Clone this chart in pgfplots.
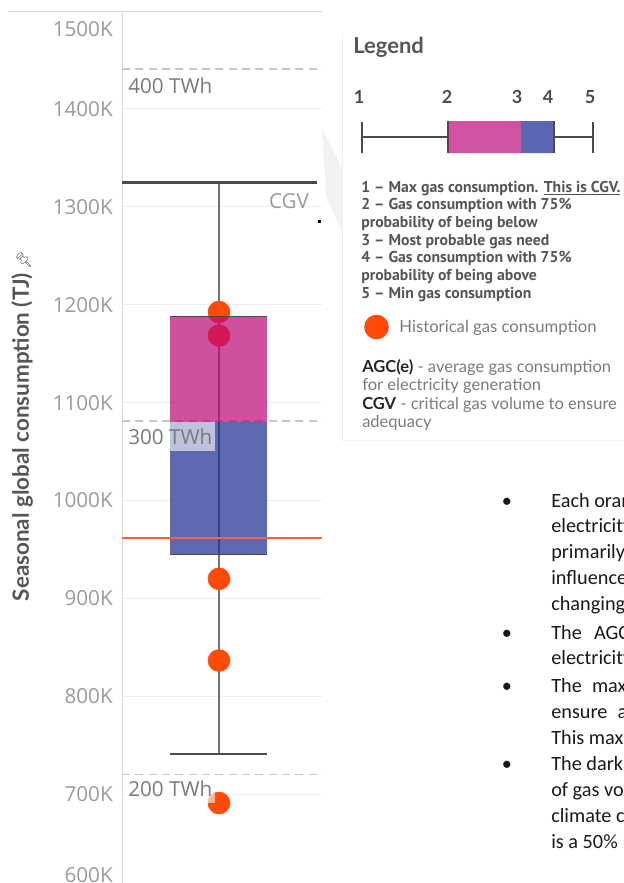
\documentclass[border=0pt]{standalone}
\usepackage{pgfplots}
\pgfplotsset{compat=1.18}
\usepackage{fontspec}
\setmainfont{Lato}
\newfontfamily\opensans{Open Sans}
\newfontfamily\ptsans{PT Sans}
\newfontfamily\calibri{Carlito}
\newfontfamily\emoji{Noto Emoji}

\definecolor{tickgray}{HTML}{9A9A9A}
\definecolor{lblgray}{HTML}{555555}
\definecolor{txtgray}{HTML}{7A7A7A}
\definecolor{axisgray}{HTML}{DADADA}
\definecolor{gridgray}{HTML}{EEEEEE}
\definecolor{dashgray}{HTML}{C6C6C6}
\definecolor{pinkbox}{HTML}{BC0677}
\definecolor{bluebox}{HTML}{192A91}
\definecolor{pinkleg}{HTML}{CF52A3}
\definecolor{blueleg}{HTML}{5B67B3}
\definecolor{hist}{HTML}{FF4A08}
\definecolor{agc}{HTML}{FF6236}
\definecolor{darkline}{HTML}{4A4A4A}

\newcommand\ticksfont{\opensans\fontsize{15.5pt}{17pt}\selectfont}

\begin{document}
\begin{tikzpicture}
\path[use as bounding box] (0,0) rectangle (468pt,-662.25pt);
\clip (0,0) rectangle (468pt,-662.25pt);

% ---- annotations, in pixel units (y down)
\begin{scope}[x=0.75pt,y=-0.75pt]
  \fill[black!5] (322,128) -- (342,168) -- (342,232) -- (326,196) -- cycle;
  \draw[black!6, line width=0.75pt] (342,33) -- (342,440) -- (624,440);
  \draw[axisgray, line width=0.75pt] (8,11) -- (322,11);
  \fill[black] (318,219.5) rectangle (321,222.5);
  \node[anchor=east, inner sep=0pt, text=tickgray, font=\ticksfont] at (113,875) {600K};
  \node[rotate=90, text=lblgray, font=\bfseries\fontsize{16.8pt}{18pt}\selectfont] at (22,426)
    {Seasonal global consumption (TJ)\,{\emoji\fontsize{11pt}{11pt}\selectfont\char"1F4CC}};

  % legend panel text
  \node[anchor=base west, inner sep=0pt, text=lblgray, font=\bfseries\fontsize{16.5pt}{18pt}\selectfont] at (353,53) {Legend};
  \begin{scope}[every node/.style={anchor=base, inner sep=0pt, text=darkline, font=\bfseries\fontsize{13.5pt}{15pt}\selectfont}]
    \node at (359,103.5) {1};
    \node at (447,103.5) {2};
    \node at (517,103.5) {3};
    \node at (548,103.5) {4};
    \node at (590,103.5) {5};
  \end{scope}
  \begin{scope}[every node/.style={anchor=base west, inner sep=0pt, text=lblgray, font=\ptsans\bfseries\fontsize{11.8pt}{13pt}\selectfont}]
    \node at (361,192) {1 – Max gas consumption. \underline{This is CGV.}};
    \node at (361,209.7) {2 – Gas consumption with 75\%};
    \node at (361,227.4) {probability of being below};
    \node at (361,245.1) {3 – Most probable gas need};
    \node at (361,262.8) {4 – Gas consumption with 75\%};
    \node at (361,280.5) {probability of being above};
    \node at (361,298.2) {5 – Min gas consumption};
  \end{scope}
  \begin{scope}[every node/.style={anchor=base west, inner sep=0pt, text=txtgray, font=\fontsize{12.4pt}{14pt}\selectfont}]
    \node at (362,372) {{\bfseries\color{black!85}AGC(e)} - average gas consumption};
    \node at (362,390.5) {for electricity generation};
    \node at (362,409) {{\bfseries\color{black!85}CGV} - critical gas volume to ensure};
    \node at (362,427.5) {adequacy};
  \end{scope}

  % bullet text (cut by the right edge)
  \begin{scope}[every node/.style={anchor=base west, inner sep=0pt, text=black!90, font=\calibri\fontsize{15.2pt}{17pt}\selectfont}]
    \foreach \yy in {507,639,692,770} \node[anchor=base] at (507,\yy) {\textbullet};
    \node at (551,507) {Each orange dot};
    \node at (551,532.8) {electricity};
    \node at (551,558.6) {primarily};
    \node at (551,584.4) {influenced};
    \node at (551,610.2) {changing};
    \node at (551,639) {The\hspace{0.6em}AGC(e)};
    \node at (551,664.8) {electricity};
    \node at (551,692) {The\hspace{0.5em}max};
    \node at (551,718) {ensure\hspace{0.5em}a};
    \node at (551,744) {This max};
    \node at (551,770) {The dark};
    \node at (551,796) {of gas volume};
    \node at (551,822) {climate conditions};
    \node at (551,848) {is a 50\%};
  \end{scope}
\end{scope}

% ---- main chart
\begin{axis}[
  at={(91.5pt,-662.25pt)}, anchor=south west,
  scale only axis, width=150pt, height=654pt,
  xmin=0, xmax=200, ymin=609.3, ymax=1500,
  axis x line=none, axis y line*=left,
  y axis line style={draw=axisgray, line width=0.75pt},
  ytick={700,800,900,1000,1100,1200,1300,1400},
  yticklabels={700K,800K,900K,1000K,1100K,1200K,1300K,1400K},
  extra y ticks={1500}, extra y tick labels={1500K},
  extra y tick style={grid=none, yticklabel style={yshift=-13.5pt}},
  major tick length=0pt,
  yticklabel style={font=\ticksfont, text=tickgray, inner sep=0pt, xshift=-6.75pt},
  ymajorgrids, grid style={draw=gridgray, line width=0.75pt},
  clip marker paths=true,
  legend style={at={(1.21,0.6376)}, anchor=west, draw=none, fill=none,
    inner sep=0pt, font=\fontsize{12.5pt}{14pt}\selectfont, text=txtgray,
    column sep=6pt},
  legend image code/.code={\fill[hist] (0pt,0pt) circle (9pt);},
]
  \addplot[forget plot, dashgray, dashed, line width=1.1pt, dash pattern=on 6pt off 4pt] coordinates {(0,1441) (200,1441)};
  \addplot[forget plot, dashgray, dashed, line width=1.1pt, dash pattern=on 6pt off 4pt] coordinates {(0,1081) (200,1081)};
  \addplot[forget plot, dashgray, dashed, line width=1.1pt, dash pattern=on 6pt off 4pt] coordinates {(0,720) (200,720)};
  \addplot[forget plot, black!55, line width=0.9pt] coordinates {(97,741) (97,1325)};
  \addplot[forget plot, darkline, line width=2.6pt] coordinates {(0,1325) (195,1325)};
  \addplot[forget plot, darkline, line width=1.5pt] coordinates {(48,741) (145,741)};
  \addplot[only marks, mark=*, mark size=8.25pt, color=hist] coordinates {(97,1192.5) (97,1168.5) (97,920) (97,836.6) (97,691)};
  \addlegendentry{Historical gas consumption}
  \addplot[forget plot, fill=pinkbox, fill opacity=0.7, draw=none] coordinates {(48,1080) (145,1080) (145,1188) (48,1188) (48,1080)};
  \addplot[forget plot, fill=bluebox, fill opacity=0.7, draw=none] coordinates {(48,945) (145,945) (145,1080) (48,1080) (48,945)};
  \addplot[forget plot, darkline, line width=0.9pt] coordinates {(48,1188) (145,1188)};
  \addplot[forget plot, darkline, line width=0.9pt] coordinates {(48,945) (145,945)};
  \addplot[forget plot, agc, line width=1.6pt] coordinates {(0,962) (200,962)};
  \node[anchor=west, inner xsep=2.25pt, inner ysep=0pt, text=txtgray, font=\ticksfont] at (axis cs:3,1423.4) {400 TWh};
  \node[anchor=west, fill=white, fill opacity=0.6, text opacity=1, minimum height=21.75pt, inner xsep=2.25pt, inner ysep=0pt, text=txtgray, font=\ticksfont] at (axis cs:3,1064.9) {300 TWh};
  \node[anchor=west, fill=white, fill opacity=0.6, text opacity=1, minimum height=21pt, inner xsep=2.25pt, inner ysep=0pt, text=txtgray, font=\ticksfont] at (axis cs:3,705.3) {200 TWh};
  \node[text=tickgray, inner sep=0pt, font=\ticksfont] at (axis cs:167,1305.9) {CGV};
\end{axis}

% ---- legend box-plot icon
\begin{axis}[
  at={(256.5pt,-123.75pt)}, anchor=south west,
  scale only axis, width=211.5pt, height=41.25pt,
  xmin=342, xmax=624, ymin=-165, ymax=-110,
  hide axis, clip=false,
]
  \addplot[darkline, line width=1.1pt] coordinates {(362,-137) (594,-137)};
  \addplot[fill=pinkleg, draw=none] coordinates {(448,-121) (521,-121) (521,-153) (448,-153) (448,-121)};
  \addplot[fill=blueleg, draw=none] coordinates {(521,-121) (554,-121) (554,-153) (521,-153) (521,-121)};
  \addplot[darkline, line width=0.8pt] coordinates {(448,-121) (448,-153)};
  \addplot[darkline, line width=0.8pt] coordinates {(554,-121) (554,-153)};
  \addplot[darkline, line width=2.2pt] coordinates {(362,-122) (362,-153)};
  \addplot[darkline, line width=2.2pt] coordinates {(593,-122) (593,-153)};
\end{axis}
\end{tikzpicture}
\end{document}
